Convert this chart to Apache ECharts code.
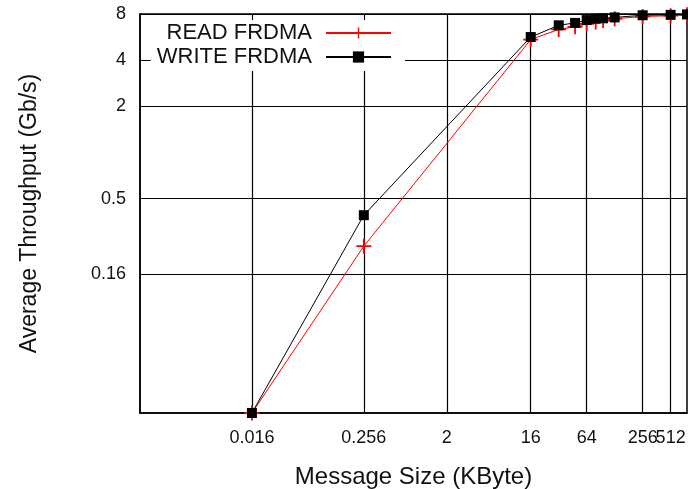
<!DOCTYPE html>
<html>
<head>
<meta charset="utf-8">
<script src="https://cdn.jsdelivr.net/npm/echarts@6/dist/echarts.min.js"></script>
<style>html,body{margin:0;padding:0;background:#fff}#c{width:688px;height:489px}</style>
</head>
<body>
<div id="c"></div>
<script>
// Message sizes (KByte)
var sizes = [0.016, 0.256, 16, 32, 48, 64, 80, 96, 128, 256, 512, 768];
// Average throughput (Gb/s)
var readFRDMA  = [0.02, 0.245, 5.45, 6.35, 6.6, 6.9, 7.1, 7.25, 7.45, 7.7, 7.8, 7.9];
var writeFRDMA = [0.02, 0.39, 5.66, 6.75, 7.0, 7.3, 7.45, 7.5, 7.6, 7.85, 7.9, 7.95];
// Tick labels
var xTicks = [0.016, 0.256, 2, 16, 64, 256, 512];
var yTicks = [0.16, 0.5, 2, 4, 8];
var xTicksMain = xTicks.slice(0, xTicks.length - 1);
var xTicksLast = xTicks.slice(xTicks.length - 1);

function pairs(xs, ys) { return xs.map(function (x, i) { return [x, ys[i]]; }); }

var FONT = 'Liberation Sans';
var fmt = function (v) { return String(+(+v).toPrecision(6)); };
var xLabelBase = { interval: 0, hideOverlap: false, margin: 16, fontFamily: FONT, fontSize: 18, color: '#111', formatter: fmt };

var chart = echarts.init(document.getElementById('c'));
chart.setOption({
  animation: false,
  backgroundColor: '#fff',
  grid: { left: 140, right: 1, top: 14, bottom: 76, outerBoundsMode: 'none', containLabel: false,
          show: true, borderColor: '#000', borderWidth: 1.5, backgroundColor: 'transparent' },
  legend: {
    orient: 'vertical', align: 'right', right: 283, top: 20,
    padding: [2, 13, 3, 6], itemGap: 2, itemWidth: 65, itemHeight: 14,
    backgroundColor: '#fff',
    textStyle: { fontFamily: FONT, fontSize: 22, color: '#111', padding: [0, 9, 0, 0] },
    data: ['READ FRDMA', 'WRITE FRDMA']
  },
  xAxis: [{
    type: 'log', logBase: 2, min: 0.001, max: 768,
    name: 'Message Size (KByte)', nameLocation: 'middle', nameGap: 52,
    nameTextStyle: { fontFamily: FONT, fontSize: 24, color: '#111' },
    axisLine: { lineStyle: { color: '#000', width: 1.5 } },
    axisTick: { inside: true, length: 6, lineStyle: { color: '#000' }, customValues: xTicks },
    axisLabel: Object.assign({ customValues: xTicksMain }, xLabelBase),
    splitLine: { show: true, lineStyle: { color: '#000', width: 1.2 } },
    minorTick: { show: false }
  }, {
    type: 'log', logBase: 2, min: 0.001, max: 768, position: 'bottom', offset: 0,
    axisLine: { show: false }, axisTick: { show: false }, splitLine: { show: false },
    axisLabel: Object.assign({ customValues: xTicksLast }, xLabelBase),
    minorTick: { show: false }
  }],
  yAxis: {
    type: 'log', logBase: 2, min: 0.02, max: 8,
    name: 'Average Throughput (Gb/s)', nameLocation: 'middle', nameGap: 99, nameRotate: 90,
    nameTextStyle: { fontFamily: FONT, fontSize: 23, color: '#111' },
    axisLine: { lineStyle: { color: '#000', width: 1.5 } },
    axisTick: { inside: true, length: 6, lineStyle: { color: '#000' }, customValues: yTicks },
    axisLabel: { customValues: yTicks, interval: 0, hideOverlap: false,
      margin: 14, fontFamily: FONT, fontSize: 18, color: '#111', formatter: fmt },
    splitLine: { show: true, lineStyle: { color: '#000', width: 1.2 } },
    minorTick: { show: false }
  },
  series: [
    {
      name: 'READ FRDMA', type: 'line', clip: false, xAxisIndex: 0,
      data: pairs(sizes, readFRDMA),
      symbol: 'path://M0,4.4H10V5.6H0Z M4.4,0H5.6V10H4.4Z', symbolSize: 15,
      lineStyle: { color: '#ff0000', width: 1 },
      itemStyle: { color: '#ff0000' }, z: 3
    },
    {
      name: 'WRITE FRDMA', type: 'line', clip: false, xAxisIndex: 0,
      data: pairs(sizes, writeFRDMA),
      symbol: 'rect', symbolSize: 10,
      lineStyle: { color: '#000', width: 1 },
      itemStyle: { color: '#000' }, z: 4
    }
  ]
});
</script>
</body>
</html>
